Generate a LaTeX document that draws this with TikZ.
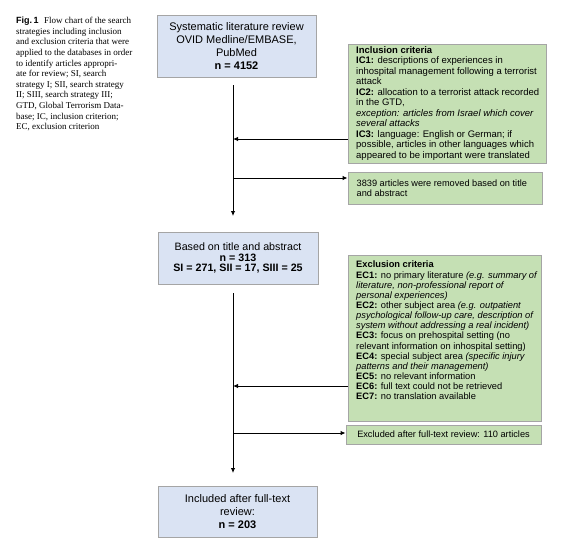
\documentclass[tikz,border=0pt]{standalone}
\usepackage{fontspec}
\setmainfont{Liberation Serif}
\newfontfamily\arialfont{Liberation Sans}
\usetikzlibrary{arrows.meta}

\definecolor{boxblue}{RGB}{218,227,243}
\definecolor{boxgreen}{RGB}{197,224,180}
\definecolor{boxedge}{RGB}{165,165,165}

\tikzset{
  bluebox/.style={draw=boxedge, fill=boxblue, line width=0.9pt, align=center, inner sep=0pt},
  greenbox/.style={draw=boxedge, fill=boxgreen, line width=0.9pt, inner sep=0pt},
  crittext/.style={align=left, inner sep=0pt, font=\arialfont\fontsize{9.2}{10.4}\selectfont},
  flow/.style={line width=0.9pt, -{Latex[length=5pt,width=4.5pt]}},
}

\begin{document}
\begin{tikzpicture}[x=1pt,y=-1pt]
    \useasboundingbox (0,0) rectangle (564,555);
    % caption
    \node[anchor=north west, align=left, inner sep=0pt, font=\fontsize{9}{10.6}\selectfont] (caption) at (16,17)
        {{\arialfont\bfseries Fig.\,1}\hspace{0.6em}Flow chart of the search\\
         strategies including inclusion\\
         and exclusion criteria that were\\
         applied to the databases in order\\
         to identify articles appropri-\\
         ate for review; SI, search\\
         strategy I; SII, search strategy\\
         II; SIII, search strategy III;\\
         GTD, Global Terrorism Data-\\
         base; IC, inclusion criterion;\\
         EC, exclusion criterion};

    % main column
    \node[bluebox, minimum width=159, minimum height=62, font=\arialfont\fontsize{11}{13}\selectfont] (search) at (236.5,46)
        {Systematic literature review\\OVID Medline/EMBASE,\\PubMed\\\textbf{n = 4152}};
    \node[bluebox, minimum width=160, minimum height=52, font=\arialfont\fontsize{10.7}{10.8}\selectfont] (screen) at (238,258)
        {Based on title and abstract\\\textbf{n = 313}\\\textbf{SI = 271, SII = 17, SIII = 25}};
    \node[bluebox, minimum width=159, minimum height=51, font=\arialfont\fontsize{11}{12.6}\selectfont] (included) at (237.5,511.5)
        {Included after full-text\\review:\\\textbf{n = 203}};

    % side boxes
    \node[greenbox, minimum width=198, minimum height=119] (incl) at (447,103.5) {};
    \node[crittext, anchor=west, font=\arialfont\fontsize{9.5}{10.5}\selectfont] (incltext) at (356,103.5)
        {\textbf{Inclusion criteria}\\
         \textbf{IC1:} descriptions of experiences in\\
         inhospital management following a terrorist\\
         attack\\
         \textbf{IC2:} allocation to a terrorist attack recorded\\
         in the GTD,\\
         \textit{exception: articles from Israel which cover}\\
         \textit{several attacks}\\
         \textbf{IC3:} language: English or German; if\\
         possible, articles in other languages which\\
         appeared to be important were translated};

    \node[greenbox, minimum width=194, minimum height=32] (removed) at (445,188) {};
    \node[crittext, anchor=west] (removedtext) at (356.5,188)
        {3839 articles were removed based on title\\and abstract};

    \node[greenbox, minimum width=193, minimum height=166, anchor=north west] (excl) at (348,255) {};
    \node[crittext, anchor=north west, font=\arialfont\fontsize{9.3}{10.15}\selectfont] (excltext) at (356,261)
        {\textbf{Exclusion criteria}\\
         \textbf{EC1:} no primary literature \textit{(e.g. summary of}\\
         \textit{literature, non-professional report of}\\
         \textit{personal experiences)}\\
         \textbf{EC2:} other subject area \textit{(e.g. outpatient}\\
         \textit{psychological follow-up care, description of}\\
         \textit{system without addressing a real incident)}\\
         \textbf{EC3:} focus on prehospital setting (no\\
         relevant information on inhospital setting)\\
         \textbf{EC4:} special subject area \textit{(specific injury}\\
         \textit{patterns and their management)}\\
         \textbf{EC5:} no relevant information\\
         \textbf{EC6:} full text could not be retrieved\\
         \textbf{EC7:} no translation available};

    \node[greenbox, minimum width=195, minimum height=19] (excluded) at (443.5,434.5) {};
    \node[crittext] (excludedtext) at (excluded.center)
        {Excluded after full-text review: 110 articles};

    % connectors
    \coordinate (top1) at (233,85);
    \coordinate (bot1) at (233,216);
    \coordinate (in1) at (233,139);
    \coordinate (out1) at (233,178);
    \coordinate (top2) at (233,293);
    \coordinate (bot2) at (233,473);
    \coordinate (in2) at (233,386);
    \coordinate (out2) at (233,433);
    \draw[flow] (top1) -- (bot1);
    \draw[flow] (incl.west |- in1) -- (in1);
    \draw[flow] (out1) -- (removed.west |- out1);
    \draw[flow] (top2) -- (bot2);
    \draw[flow] (excl.west |- in2) -- (in2);
    \draw[flow] (out2) -- (excluded.west |- out2);
\end{tikzpicture}
\end{document}
